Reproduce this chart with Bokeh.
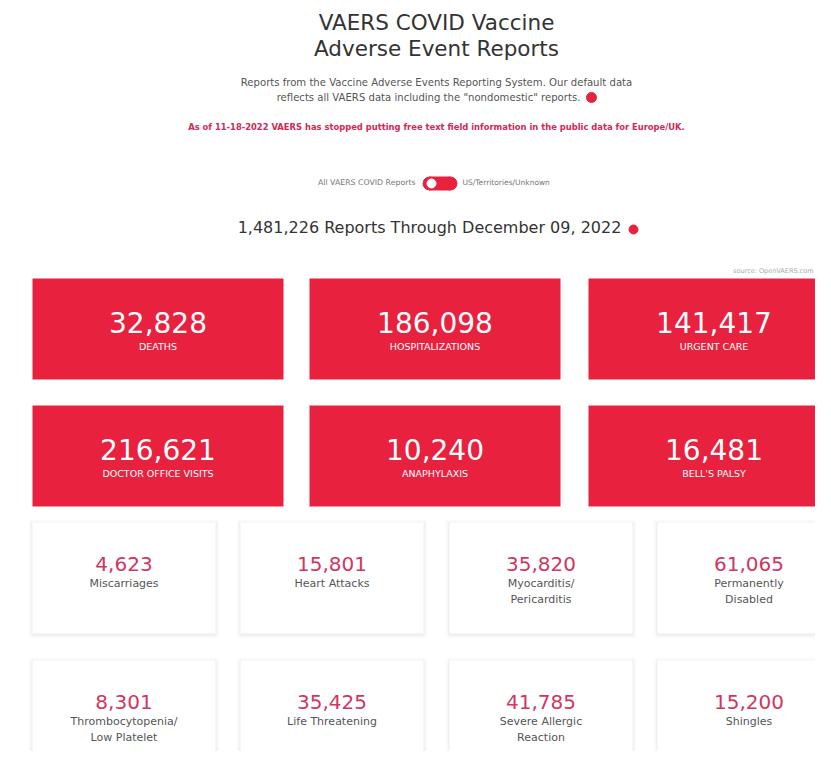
from bokeh.plotting import figure
from bokeh.models import Range1d
from bokeh.core.properties import value
from bokeh.embed import file_html
from bokeh.resources import INLINE

# ---------------- data ----------------
title_lines = ["VAERS COVID Vaccine", "Adverse Event Reports"]
intro_lines = ["Reports from the Vaccine Adverse Events Reporting System. Our default data",
               "reflects all VAERS data including the \"nondomestic\" reports."]
notice = "As of 11-18-2022 VAERS has stopped putting free text field information in the public data for Europe/UK."
toggle_labels = ["All VAERS COVID Reports", "US/Territories/Unknown"]
total_reports = 1481226
through_date = "December 09, 2022"
source_note = "source: OpenVAERS.com"

big_labels = ["DEATHS", "HOSPITALIZATIONS", "URGENT CARE",
              "DOCTOR OFFICE VISITS", "ANAPHYLAXIS", "BELL'S PALSY"]
big_values = [32828, 186098, 141417, 216621, 10240, 16481]

small_labels = [["Miscarriages"], ["Heart Attacks"], ["Myocarditis/", "Pericarditis"],
                ["Permanently", "Disabled"], ["Thrombocytopenia/", "Low Platelet"],
                ["Life Threatening"], ["Severe Allergic", "Reaction"], ["Shingles"]]
small_values = [4623, 15801, 35820, 61065, 8301, 35425, 41785, 15200]

# ---------------- style ----------------
FONT = "DejaVu Sans"
RED = "#e8213f"
PINK = "#cf3762"
DARK = "#333333"
GREY = "#555555"

p = figure(width=815, height=751, x_range=Range1d(0, 815), y_range=Range1d(751, 0),
           output_backend="svg", toolbar_location=None, min_border=0)
p.axis.visible = False
p.grid.visible = False
p.outline_line_color = None
p.background_fill_color = "white"
p.border_fill_color = "white"

CX = 436


def txt(x, y, t, size, color, align="center", style="normal", font=FONT):
    p.text(x=[x], y=[y], text=[t], text_font=value(font), text_font_size=f"{size}px",
           text_color=color, text_align=align, text_baseline="middle", text_font_style=style)


# header
txt(CX, 22, title_lines[0], 21.5, DARK)
txt(CX, 48, title_lines[1], 21.5, DARK)
txt(CX, 82, intro_lines[0], 10.1, GREY)
txt(CX - 8, 97, intro_lines[1], 10.1, GREY)
p.scatter(x=[591], y=[97], size=10, color=RED)
txt(CX, 126, notice, 8.4, "#d02a56", style="bold")

# toggle
txt(415, 182, toggle_labels[0], 7.8, "#777777", align="right")
p.scatter(x=[429, 450], y=[183, 183], size=13, color=RED)
p.quad(left=[429], right=[450], top=[176.5], bottom=[189.5], color=RED)
p.scatter(x=[431], y=[183], size=9, color="white")
txt(462, 182, toggle_labels[1], 7.5, "#777777", align="left")

# total
txt(CX - 7, 227, f"{total_reports:,} Reports Through {through_date}", 16, DARK)
p.scatter(x=[633], y=[229], size=9, color=RED)
txt(813, 270, source_note, 6.5, "#aaaaaa", align="right")

# big red boxes
big_left = [32, 309, 588]
big_top = [278, 405]
BW, BH = 251, 101
bl, br, bt, bb, bx, byn, byl, bnum, blab = [], [], [], [], [], [], [], [], []
for i, (v, lab) in enumerate(zip(big_values, big_labels)):
    r, c = divmod(i, 3)
    L, T = big_left[c], big_top[r]
    bl.append(L); br.append(L + BW); bt.append(T); bb.append(T + BH)
    bx.append(L + BW / 2); byn.append(T + 44); byl.append(T + 68)
    bnum.append(f"{v:,}"); blab.append(lab)
p.quad(left=bl, right=br, top=bt, bottom=bb, fill_color=RED, line_color=None)
p.text(x=bx, y=byn, text=bnum, text_font=value(FONT), text_font_size="28px",
       text_color="white", text_align="center", text_baseline="middle")
p.text(x=bx, y=byl, text=blab, text_font=value(FONT), text_font_size="9.5px",
       text_color="white", text_align="center", text_baseline="middle")

# small white cards
small_left = [32, 240, 449, 657]
small_top = [522, 660]
SW, SH = 183, 111
sl, sr, st, sb = [], [], [], []
nx, ny, nt = [], [], []
lx, ly, lt = [], [], []
for i, (v, labs) in enumerate(zip(small_values, small_labels)):
    r, c = divmod(i, 4)
    L, T = small_left[c], small_top[r]
    sl.append(L); sr.append(L + SW); st.append(T); sb.append(T + SH)
    nx.append(L + SW / 2); ny.append(T + 41); nt.append(f"{v:,}")
    for k, lab in enumerate(labs):
        lx.append(L + SW / 2); ly.append(T + 61 + 16 * k); lt.append(lab)
for pad, col in [(4, "#fbfbfb"), (2, "#f5f5f5"), (1, "#eeeeee")]:
    p.quad(left=[a - pad for a in sl], right=[a + pad for a in sr],
           top=[a - pad + 1 for a in st], bottom=[a + pad + 1 for a in sb],
           fill_color=col, line_color=None)
p.quad(left=sl, right=sr, top=st, bottom=sb, fill_color="white", line_color=None)
p.text(x=nx, y=ny, text=nt, text_font=value(FONT), text_font_size="20px",
       text_color=PINK, text_align="center", text_baseline="middle")
p.text(x=lx, y=ly, text=lt, text_font=value(FONT), text_font_size="11px",
       text_color=GREY, text_align="center", text_baseline="middle")

open("out.html", "w").write(file_html(p, INLINE))
